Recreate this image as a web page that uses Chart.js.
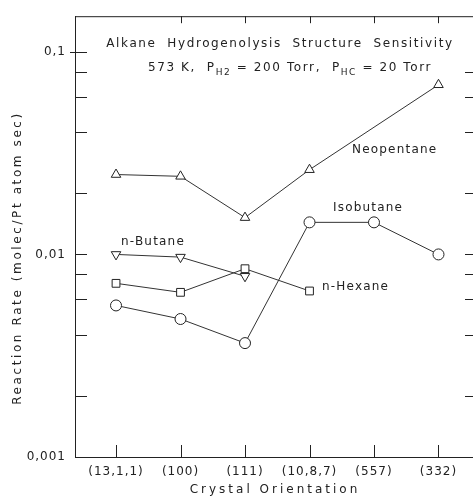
<!DOCTYPE html>
<html>
<head>
<meta charset="utf-8">
<script src="https://cdn.jsdelivr.net/npm/chart.js@4/dist/chart.umd.min.js"></script>
<style>
  html, body { margin: 0; padding: 0; background: #fff; overflow: hidden; }
  canvas { display: block; }
</style>
</head>
<body>
<canvas id="rate-chart" width="473" height="502"></canvas>
<script>
const orientations = ['(13,1,1)', '(100)', '(111)', '(10,8,7)', '(557)', '(332)'];

const neopentane = [0.0248, 0.0243, 0.0152, 0.0262, null, 0.0688];
const nButane = [0.0100, 0.0097, 0.0078, null, null, null];
const nHexane = [0.0072, 0.0065, 0.0085, 0.0066, null, null];
const isobutane = [0.0056, 0.0048, 0.00365, 0.0144, 0.0144, 0.0100];

const yTicks = [0.001, 0.002, 0.004, 0.006, 0.008, 0.01, 0.02, 0.04, 0.06, 0.08, 0.1];
const yLabels = { 0.001: '0,001', 0.01: '0,01', 0.1: '0,1' };

const INK = '#222';
const FONT = '"DejaVu Sans", sans-serif';

function toPoints(values) {
    return values.map((v, i) => ({ x: i, y: v }));
}

function makeSeries(label, values, style, rotation) {
    return {
        label: label,
        data: toPoints(values),
        borderColor: '#333',
        borderWidth: 1,
        pointStyle: style,
        rotation: rotation || 0,
        pointRadius: 5.5,
        pointBorderWidth: 1,
        pointBackgroundColor: '#fff',
        pointBorderColor: INK,
        spanGaps: true,
        tension: 0
    };
}

// inward tick marks, frame lines, annotations
const frameAndText = {
    id: 'frameAndText',
    beforeDraw(chart) {
        chart.ctx.letterSpacing = '1px';
    },
    afterDraw(chart) {
        const ctx = chart.ctx;
        const a = chart.chartArea;
        const xs = chart.scales.x;
        const ys = chart.scales.y;
        ctx.save();
        ctx.strokeStyle = INK;
        ctx.lineWidth = 1;
        ctx.beginPath();
        ctx.moveTo(a.left, a.top + 0.5);
        ctx.lineTo(a.right, a.top + 0.5);
        ctx.moveTo(a.left + 0.5, a.top);
        ctx.lineTo(a.left + 0.5, a.bottom);
        ctx.moveTo(a.left, a.bottom + 0.5);
        ctx.lineTo(a.right, a.bottom + 0.5);
        yTicks.forEach(v => {
            const py = Math.round(ys.getPixelForValue(v)) + 0.5;
            ctx.moveTo(a.left, py);
            ctx.lineTo(a.left + 12, py);
            if (v < 0.1 && v > 0.001) {
                ctx.moveTo(a.right - 8, py);
                ctx.lineTo(a.right, py);
            }
        });
        ctx.moveTo(a.left - 5, Math.round(ys.getPixelForValue(0.1)) + 0.5);
        ctx.lineTo(a.left, Math.round(ys.getPixelForValue(0.1)) + 0.5);
        orientations.forEach((o, i) => {
            const px = Math.round(xs.getPixelForValue(i)) + 0.5;
            ctx.moveTo(px, a.bottom);
            ctx.lineTo(px, a.bottom - 12);
            if (i > 0) {
                ctx.moveTo(px, a.top);
                ctx.lineTo(px, a.top + 7);
            }
        });
        ctx.stroke();

        ctx.fillStyle = INK;
        ctx.textBaseline = 'middle';
        ctx.letterSpacing = '1.6px';
        ctx.font = '12px ' + FONT;
        ctx.textAlign = 'center';
        ctx.fillText('Alkane  Hydrogenolysis  Structure  Sensitivity', 280, 44);

        // second title line with subscripts
        ctx.textAlign = 'left';
        const parts = [
            ['573 K,  P', 0], ['H2', 1], [' = 200 Torr,  P', 0], ['HC', 1], [' = 20 Torr', 0]
        ];
        let x = 148;
        parts.forEach(([t, sub]) => {
            ctx.font = (sub ? '9px ' : '12px ') + FONT;
            ctx.fillText(t, x, sub ? 73 : 68);
            x += ctx.measureText(t).width;
        });

        ctx.font = '12px ' + FONT;
        ctx.letterSpacing = '1.2px';
        ctx.fillText('Neopentane', 352, 150);
        ctx.fillText('Isobutane', 333, 208);
        ctx.fillText('n-Butane', 121, 242);
        ctx.fillText('n-Hexane', 322, 287);

        // axis titles
        ctx.letterSpacing = '3px';
        ctx.textAlign = 'center';
        ctx.fillText('Crystal Orientation', 275, 490);
        ctx.translate(18, 258);
        ctx.rotate(-Math.PI / 2);
        ctx.letterSpacing = '2.6px';
        ctx.fillText('Reaction Rate (molec/Pt atom sec)', 0, 0);
        ctx.restore();
    }
};

new Chart(document.getElementById('rate-chart'), {
    type: 'line',
    data: {
        datasets: [
            makeSeries('Neopentane', neopentane, 'triangle'),
            makeSeries('n-Butane', nButane, 'triangle', 180),
            makeSeries('n-Hexane', nHexane, 'rect'),
            makeSeries('Isobutane', isobutane, 'circle')
        ]
    },
    options: {
        responsive: false,
        animation: false,
        layout: { autoPadding: false, padding: { top: 15, right: 0, left: 0, bottom: 0 } },
        plugins: {
            legend: { display: false },
            tooltip: { enabled: false }
        },
        scales: {
            x: {
                type: 'linear',
                min: -0.636,
                max: 5.535,
                afterBuildTicks: (scale) => {
                    scale.ticks = orientations.map((o, i) => ({ value: i }));
                },
                afterFit: (scale) => {
                    scale.height = 45;
                    scale.paddingLeft = 0;
                    scale.paddingRight = 0;
                },
                grid: { display: false, drawTicks: false },
                border: { display: true, color: INK, width: 1 },
                ticks: {
                    autoSkip: false,
                    maxRotation: 0,
                    padding: 8,
                    color: INK,
                    font: { family: FONT, size: 12 },
                    callback: (v) => orientations[v] || ''
                }
            },
            y: {
                type: 'logarithmic',
                min: 0.001,
                max: 0.15,
                afterBuildTicks: (scale) => {
                    scale.ticks = yTicks.map(v => ({ value: v }));
                },
                afterFit: (scale) => { scale.width = 75; },
                grid: { display: false, drawTicks: false },
                border: { display: true, color: INK, width: 1 },
                ticks: {
                    autoSkip: false,
                    padding: 9,
                    color: INK,
                    font: { family: FONT, size: 12 },
                    callback: (v) => yLabels[v] || ''
                }
            }
        }
    },
    plugins: [frameAndText]
});
</script>
</body>
</html>
